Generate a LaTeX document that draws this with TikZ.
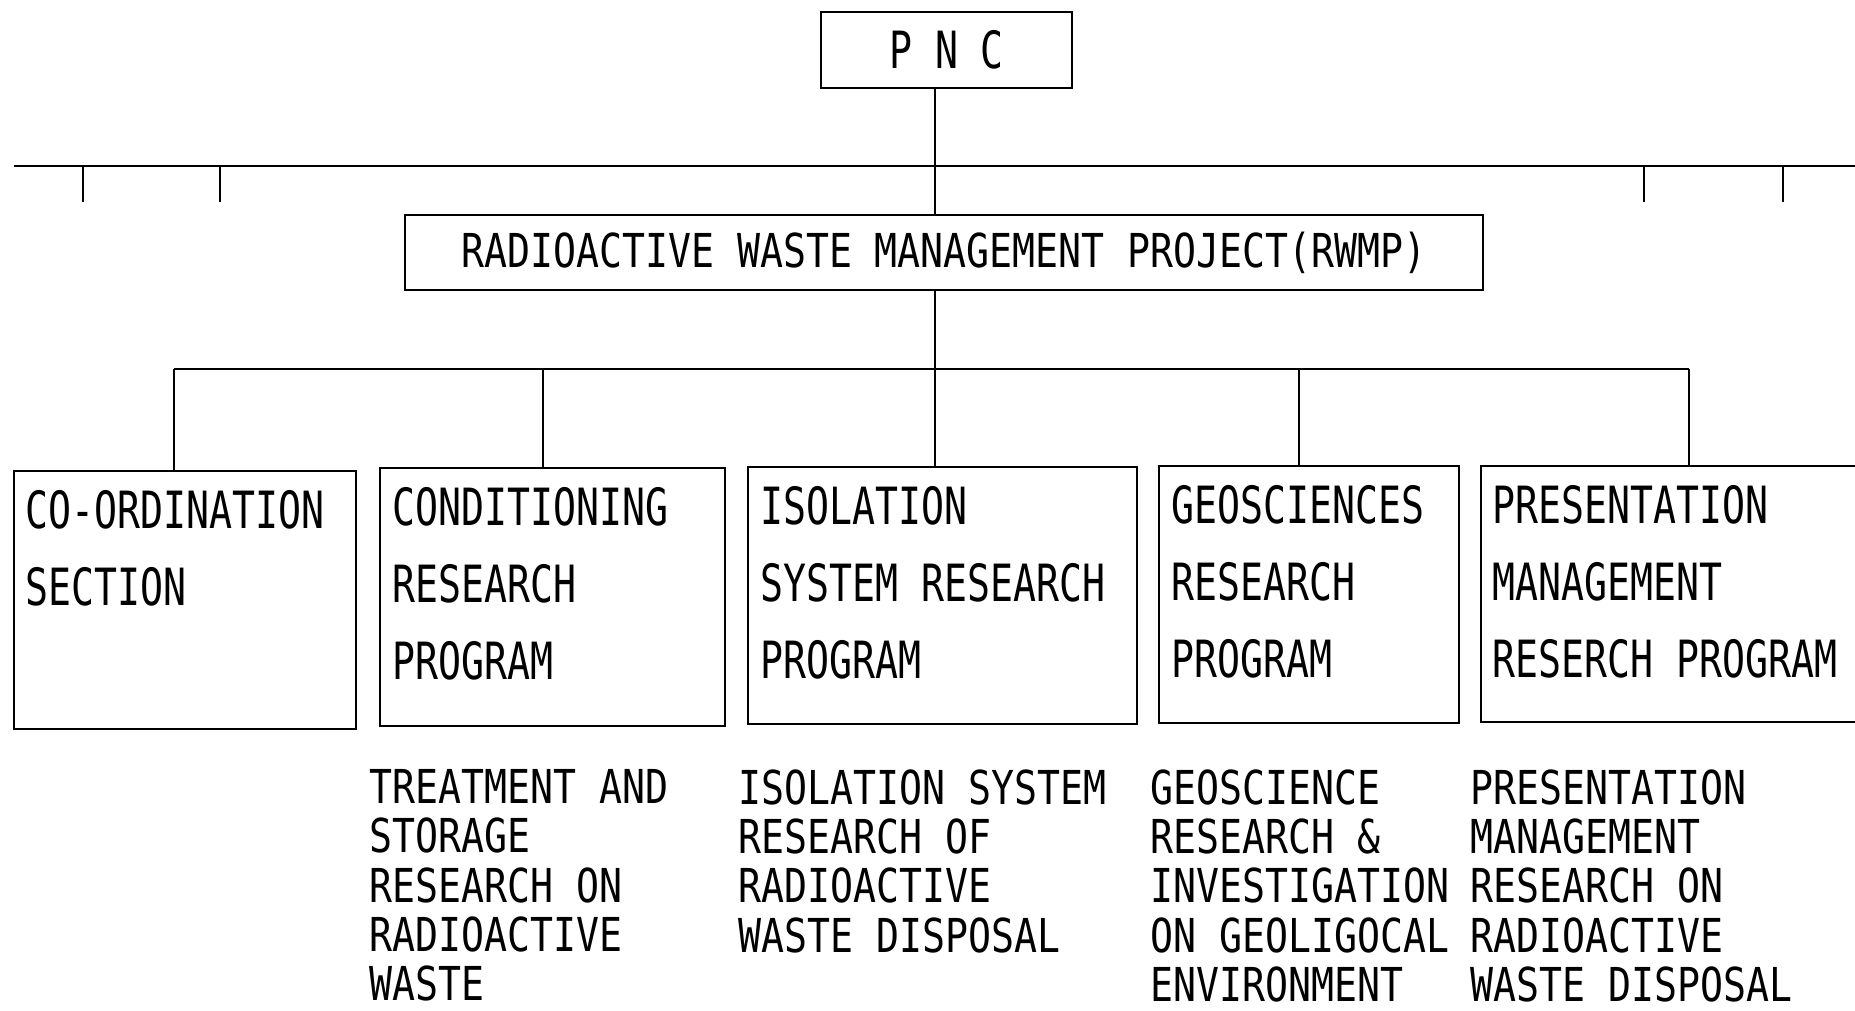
\documentclass[tikz,border=0pt]{standalone}
\usepackage{fontspec}
\usetikzlibrary{positioning}

\newfontfamily\kaderfont[FakeStretch=0.744]{DejaVu Sans Mono}
\newfontfamily\takenfont[FakeStretch=0.817]{DejaVu Sans Mono}

\tikzset{
  kader/.style={draw, line width=0.6pt, inner sep=0pt},
  kadertekst/.style={font={\kaderfont\fontsize{14.6pt}{21.9pt}\selectfont}, align=left, inner sep=0pt},
  taaktekst/.style={font={\takenfont\fontsize{13.3pt}{14.0pt}\selectfont}, align=left, inner sep=0pt, anchor=north west},
  lijn/.style={line width=0.5pt},
}

\begin{document}
\begin{tikzpicture}
    \useasboundingbox (0,0) rectangle (18.55,-10.11);

    % Bovenste kaders: PNC en het project
    \node[kader, kadertekst, minimum width=2.51cm, minimum height=0.76cm] (PNC) at (9.465,-0.50) {P N C};
    \node[kader, minimum width=10.78cm, minimum height=0.75cm,
          font={\takenfont\fontsize{13.3pt}{16pt}\selectfont}] (RWMP) at (9.44,-2.525)
          {RADIOACTIVE WASTE MANAGEMENT PROJECT(RWMP)};

    % Hoofdlijn met korte aftakkingen
    \coordinate (H1) at (0.14,-1.66);  % begin hoofdlijn
    \coordinate (H2) at (18.7,-1.66);  % loopt door tot de rand
    \draw[line width=0.7pt] (H1) -- (H2);
    \foreach \x in {0.83, 2.20, 16.44, 17.83}
        \draw[lijn] (\x,-1.66) -- (\x,-2.02);

    % Stam van PNC naar het project
    \coordinate (stam) at (9.35,-1.66);
    \draw[lijn] (stam |- PNC.south) -- (stam |- RWMP.north);

    % De vijf afdelingen
    \node[kader, minimum width=3.42cm, minimum height=2.58cm] (CO)   at (1.85,-6.00)   {};
    \node[kader, minimum width=3.45cm, minimum height=2.58cm] (CRP)  at (5.525,-5.97)  {};
    \node[kader, minimum width=3.89cm, minimum height=2.57cm] (ISRP) at (9.425,-5.955) {};
    \node[kader, minimum width=3.00cm, minimum height=2.57cm] (GRP)  at (13.09,-5.945) {};
    \node[kader, minimum width=3.89cm, minimum height=2.56cm] (PMRP) at (16.755,-5.94) {};

    % Teksten in de kaders
    \node[kadertekst, below right=0.20cm and 0.12cm of CO.north west]   {CO-ORDINATION\\SECTION};
    \node[kadertekst, below right=0.20cm and 0.13cm of CRP.north west]  {CONDITIONING\\RESEARCH\\PROGRAM};
    \node[kadertekst, below right=0.20cm and 0.13cm of ISRP.north west] {ISOLATION\\SYSTEM RESEARCH\\PROGRAM};
    \node[kadertekst, below right=0.20cm and 0.13cm of GRP.north west]  {GEOSCIENCES\\RESEARCH\\PROGRAM};
    \node[kadertekst, below right=0.20cm and 0.12cm of PMRP.north west] {PRESENTATION\\MANAGEMENT\\RESERCH PROGRAM};

    % Verdeellijn onder het project
    \coordinate (A1) at (1.74,-3.69);
    \coordinate (A2) at (5.43,-3.69);
    \coordinate (A3) at (9.35,-3.69);
    \coordinate (A4) at (12.99,-3.69);
    \coordinate (A5) at (16.89,-3.69);
    \draw[lijn] (A1) -- (A5);
    \draw[lijn] (A3 |- RWMP.south) -- (A3);
    \foreach \i/\n in {1/CO, 2/CRP, 3/ISRP, 4/GRP, 5/PMRP}
        \draw[lijn] (A\i) -- (A\i |- \n.north);

    % Taken onder de kaders
    \node[taaktekst] (T2) at (3.69,-7.69)  {TREATMENT AND\\STORAGE\\RESEARCH ON\\RADIOACTIVE\\WASTE};
    \node[taaktekst] (T3) at (7.38,-7.69)  {ISOLATION SYSTEM\\RESEARCH OF\\RADIOACTIVE\\WASTE DISPOSAL};
    \node[taaktekst] (T4) at (11.50,-7.69) {GEOSCIENCE\\RESEARCH \&\\INVESTIGATION\\ON GEOLIGOCAL\\ENVIRONMENT};
    \node[taaktekst] (T5) at (14.70,-7.69) {PRESENTATION\\MANAGEMENT\\RESEARCH ON\\RADIOACTIVE\\WASTE DISPOSAL};
\end{tikzpicture}
\end{document}
